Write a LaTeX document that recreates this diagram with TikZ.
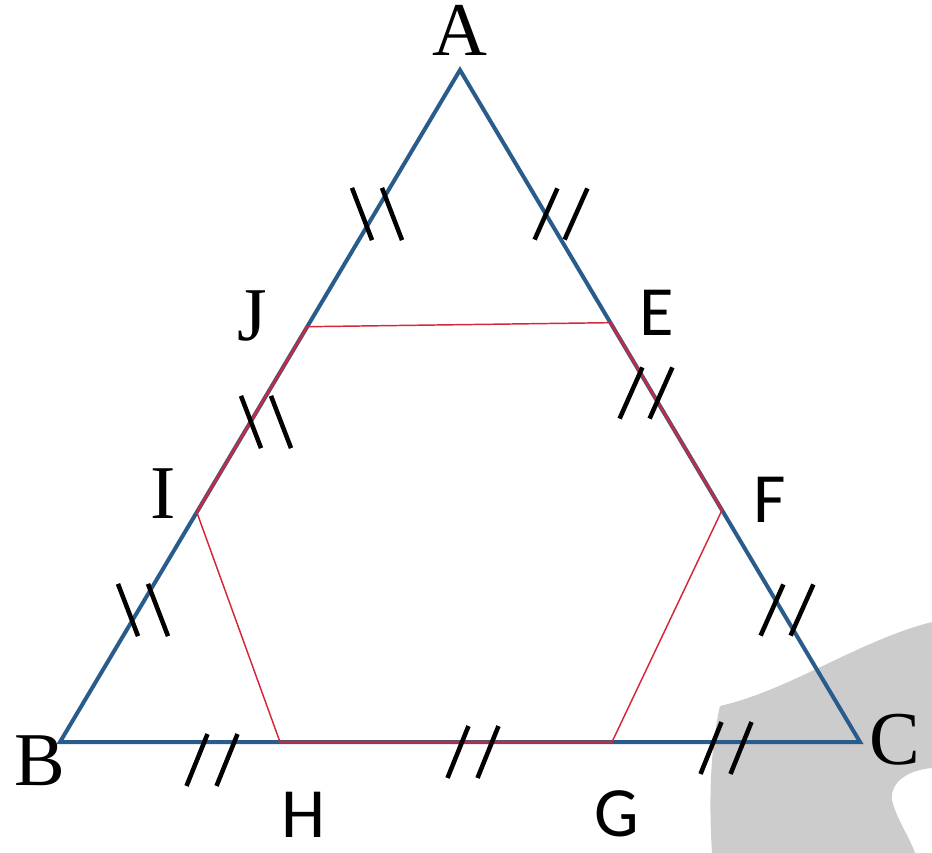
\documentclass[tikz,border=0pt]{standalone}
\usepackage{fontspec}
\setmainfont{Liberation Serif}
\newfontfamily\sanslab{Carlito}
\usetikzlibrary{calc}
\definecolor{sideblue}{RGB}{41,92,138}
\definecolor{hexred}{RGB}{214,38,58}
\tikzset{
  triside/.style={color=sideblue, line width=3pt, line join=miter},
  hexside/.style={color=hexred, line width=1.1pt},
  hexover/.style={color=hexred, line width=2.6pt, opacity=0.45},
  tickline/.style={black, line width=3.4pt},
  serlab/.style={inner sep=0pt, font=\fontsize{57}{60}\selectfont},
  sanlab/.style={inner sep=0pt, font=\sanslab\fontsize{53}{58}\selectfont}
}
\begin{document}
\begin{tikzpicture}[x=0.75pt,y=0.75pt,yscale=-1,xscale=1]
                \useasboundingbox (0,0) rectangle (932,853);
                %Shape: watermark
                \fill [black!20] (712,853) .. controls (708,790) and (712,740) .. (720,706) .. controls (790,690) and (860,640) .. (932,622) -- (932,768) .. controls (908,770) and (890,782) .. (892,800) .. controls (896,818) and (910,838) .. (915,853) -- cycle ;
                % Corners
                \coordinate (A) at (460,70);
                \coordinate (B) at (60,742);
                \coordinate (C) at (860,742);
                \coordinate (J) at ($(A)!0.382!(B)$);
                \coordinate (I) at ($(A)!0.658!(B)$);
                \coordinate (E) at ($(A)!0.376!(C)$);
                \coordinate (F) at ($(A)!0.655!(C)$);
                \coordinate (H) at ($(B)!0.275!(C)$);
                \coordinate (G) at ($(B)!0.69!(C)$);
                %Straight Lines: triangle
                \draw [triside] (A) -- (B) -- (C) -- cycle ;
                %Straight Lines: hexagon
                \draw [hexside] (J) -- (E) -- (F) -- (G) -- (H) -- (I) -- cycle ;
                \draw [hexover] (E) -- (F) (G) -- (H) (I) -- (J) ;
                %Tick marks
                \foreach \cx/\cy/\ang in {377/214/69, 266/422/69, 143/610/69, 561/214/-66, 646/393/-66, 787/610/-66, 212/760/-68, 473/752/-68, 726/748/-68}
                  \foreach \dx in {-15,15}
                    \draw [tickline] (\cx+\dx,\cy) +(\ang:28) -- +(\ang:-28) ;

                % Text Node
                \node [serlab] (lA) at (460,30) {A};
                % Text Node
                \node [serlab] (lB) at (40,761) {B};
                % Text Node
                \node [serlab] (lC) at (895,740) {C};
                % Text Node
                \node [serlab] (lI) at (163,494) {I};
                % Text Node
                \node [serlab] (lJ) at (252,316) {J};
                % Text Node
                \node [sanlab] (lE) at (657,313) {E};
                % Text Node
                \node [sanlab] (lF) at (770,500) {F};
                % Text Node
                \node [sanlab] (lG) at (617,814) {G};
                % Text Node
                \node [sanlab] (lH) at (304,815) {H};
\end{tikzpicture}
\end{document}
